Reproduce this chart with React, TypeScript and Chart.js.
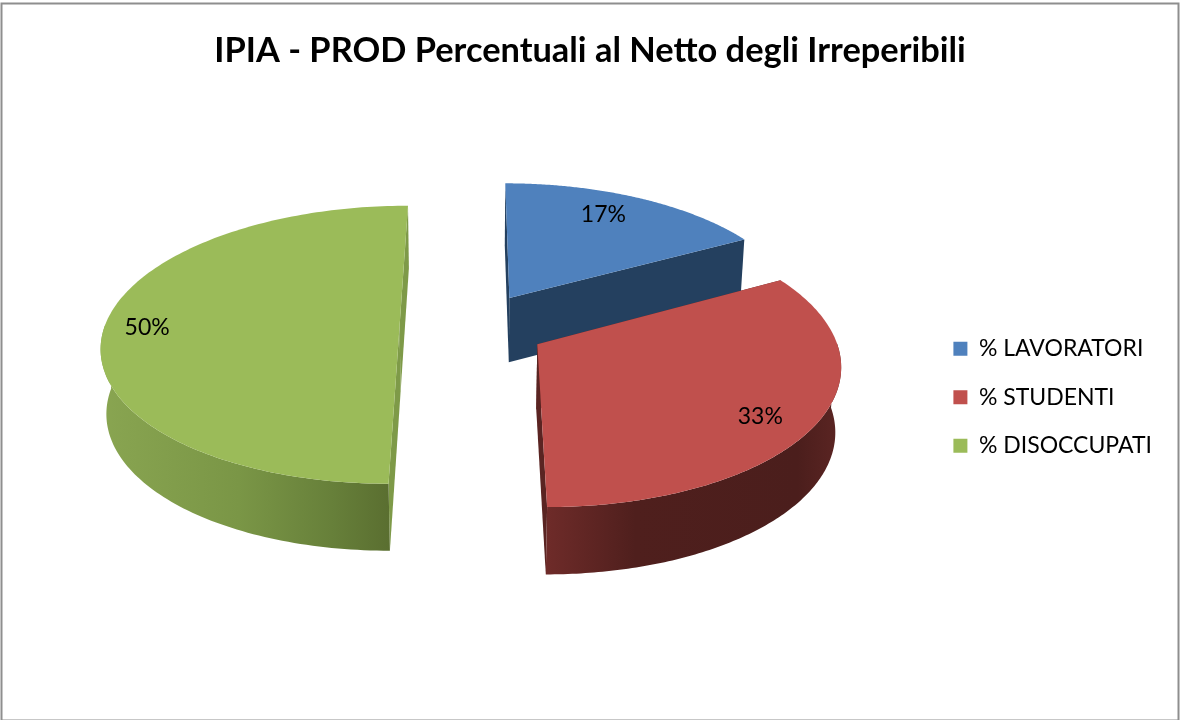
import React, { useEffect, useRef } from "react";
import { Chart, registerables } from "chart.js";

Chart.register(...registerables);

const TITLE = "IPIA - PROD Percentuali al Netto degli Irreperibili";
const categories = ["% LAVORATORI", "% STUDENTI", "% DISOCCUPATI"];
const percentages = [17, 33, 50];
const topColors = ["#4F81BD", "#C0504D", "#9BBB59"];
const sideColors = ["#24405F", "#5A2422", "#7E9A48"];
const rimStops = [
  [["0", "#24405F"], ["1", "#24405F"]],
  [["0", "#6E2B29"], ["0.3", "#4F1F1D"], ["0.85", "#4B1E1C"], ["1", "#5C2523"]],
  [["0", "#89A551"], ["0.45", "#7A9646"], ["0.75", "#67803A"], ["1", "#56692D"]],
];
const labelRadius = [0.79, 0.835, 0.855];
const labelAngleShift = [-0.05, 0.08, -0.006];

const FONT = "Lato, Carlito, sans-serif";
const DISC_R = 295;
const CAM = { xv: 473, yv: -723, h: 1049.6, d: 2266, downX: 470, downY: 4500 };
const drawOrder = [0, 2, 1];

function project(X: number, Y: number) {
  const s = CAM.d / (CAM.d - Y);
  return { x: CAM.xv + X * s, y: CAM.yv + CAM.h * s, s };
}
function lower(p: { x: number; y: number; s: number }) {
  const t = 0.0075 + 0.008 * p.s;
  return { x: p.x + t * (CAM.downX - p.x), y: p.y + t * (CAM.downY - p.y), s: p.s };
}
function poly(ctx: CanvasRenderingContext2D, pts: { x: number; y: number }[], fill: any) {
  ctx.beginPath();
  pts.forEach((p, i) => (i ? ctx.lineTo(p.x, p.y) : ctx.moveTo(p.x, p.y)));
  ctx.closePath();
  ctx.fillStyle = fill;
  ctx.fill();
}

const pie3d = {
  id: "pie3d",
  beforeDraw(chart: any) {
    const { ctx, width, height } = chart;
    ctx.save();
    ctx.fillStyle = "#fff";
    ctx.fillRect(0, 0, width, height);
    ctx.strokeStyle = "#8E8E8E";
    ctx.lineWidth = 2;
    ctx.strokeRect(1.5, 3.5, width - 3, height - 3);
    ctx.restore();
  },
  beforeDatasetsDraw(chart: any) {
    const ctx: CanvasRenderingContext2D = chart.ctx;
    const meta = chart.getDatasetMeta(0);
    ctx.save();
    drawOrder.forEach((i) => {
      const el = meta.data[i];
      const a0 = el.startAngle;
      const a1 = el.endAngle;
      const mid = (a0 + a1) / 2;
      const e = (DISC_R * (el.options.offset || 0)) / el.outerRadius;
      const ox = Math.cos(mid) * e;
      const oy = Math.sin(mid) * e;
      const at = (a: number, r = 1) =>
        project(ox + DISC_R * r * Math.cos(a), oy + DISC_R * r * Math.sin(a));
      const rim: any[] = [];
      const n = 160;
      for (let k = 0; k <= n; k++) rim.push(at(a0 + ((a1 - a0) * k) / n));
      const apex = at(0, 0);
      const rimLow = rim.map(lower);
      const apexLow = lower(apex);
      // radial walls
      poly(ctx, [apex, rim[0], rimLow[0], apexLow], sideColors[i]);
      poly(ctx, [apex, rim[n], rimLow[n], apexLow], sideColors[i]);
      // outer wall, only the part turned to the viewer
      const xs = rim.map((p) => p.x);
      const g = ctx.createLinearGradient(Math.min(...xs), 0, Math.max(...xs), 0);
      rimStops[i].forEach(([o, c]) => g.addColorStop(Number(o), c));
      const seen: number[] = [];
      for (let k = 0; k <= n; k++) {
        if (Math.sin(a0 + ((a1 - a0) * k) / n) > -0.02) seen.push(k);
      }
      if (seen.length > 1) {
        const up = seen.map((k) => rim[k]);
        const down = seen.map((k) => rimLow[k]).reverse();
        poly(ctx, [...up, ...down], g);
      }
      // top face
      poly(ctx, [apex, ...rim], topColors[i]);
    });
    ctx.fillStyle = "#000";
    ctx.font = `23px ${FONT}`;
    ctx.textAlign = "center";
    ctx.textBaseline = "middle";
    meta.data.forEach((el: any, i: number) => {
      const mid = (el.startAngle + el.endAngle) / 2;
      const e = (DISC_R * (el.options.offset || 0)) / el.outerRadius;
      const a = mid + labelAngleShift[i];
      const p = project(
        Math.cos(mid) * e + DISC_R * labelRadius[i] * Math.cos(a),
        Math.sin(mid) * e + DISC_R * labelRadius[i] * Math.sin(a)
      );
      ctx.fillText(`${percentages[i]}%`, p.x, p.y);
    });
    ctx.restore();
    return false;
  },
};

export default function App() {
  const ref = useRef<HTMLCanvasElement>(null);
  useEffect(() => {
    const chart = new Chart(ref.current as HTMLCanvasElement, {
      type: "pie",
      data: {
        labels: categories,
        datasets: [
          {
            data: percentages,
            backgroundColor: topColors,
            borderWidth: 0,
            offset: 71.5,
          },
        ],
      },
      options: {
        responsive: false,
        animation: false,
        layout: { padding: { left: 18, right: 18, top: 30 } },
        plugins: {
          title: {
            display: true,
            text: TITLE,
            color: "#000",
            font: { family: FONT, size: 34.4, weight: "bold" },
            padding: { top: 0, bottom: 3 },
          },
          legend: {
            position: "right",
            fullSize: false,
            labels: {
              boxWidth: 14,
              boxHeight: 14,
              padding: 25.5,
              color: "#000",
              font: { family: FONT, size: 23 },
            },
          },
          tooltip: { enabled: false },
        },
      },
      plugins: [pie3d],
    } as any);
    return () => chart.destroy();
  }, []);
  return (
    <div style={{ position: "fixed", left: 0, top: 0, width: 1180, height: 720 }}>
      <canvas ref={ref} width={1180} height={720} style={{ display: "block" }} />
    </div>
  );
}
